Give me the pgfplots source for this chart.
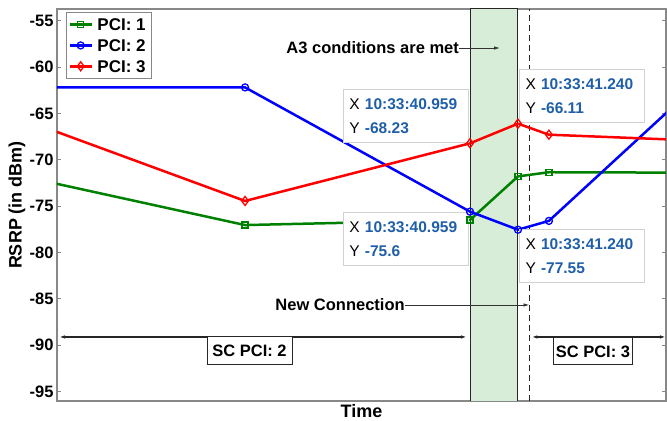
\documentclass[border=0pt]{standalone}
\usepackage{fontspec}
\setmainfont{Liberation Sans}
\usepackage{pgfplots}
\pgfplotsset{compat=1.18}
\usetikzlibrary{arrows.meta}
\definecolor{pcigreen}{HTML}{008000}
\definecolor{pciblue}{HTML}{0000FF}
\definecolor{pcired}{HTML}{FF0000}
\definecolor{tipblue}{HTML}{1F5FAA}
\definecolor{zonefill}{HTML}{D7EDD7}
\definecolor{boxgray}{HTML}{888888}
\newcommand{\tickfont}{\fontsize{16.5bp}{19bp}\selectfont\bfseries}
\newcommand{\legfont}{\fontsize{17bp}{19bp}\selectfont\bfseries}
\newcommand{\labfont}{\fontsize{18bp}{21bp}\selectfont\bfseries}
\newcommand{\notefont}{\fontsize{16.5bp}{19bp}\selectfont\bfseries}
\newcommand{\tipfont}{\fontsize{15.5bp}{24bp}\selectfont}
\newcommand{\tip}[2]{X \textcolor{tipblue}{\bfseries #1}\\Y \textcolor{tipblue}{\bfseries #2}}

\begin{document}
\begin{tikzpicture}
\begin{axis}[
  scale only axis, width=609bp, height=392bp,
  xmin=38.5409, xmax=42.1066, ymin=-96.03, ymax=-53.74,
  xtick=\empty,
  ytick={-95,-90,-85,-80,-75,-70,-65,-60,-55},
  yticklabels={-95,-90,-85,-80,-75,-70,-65,-60,-55},
  ytick pos=both, tick align=inside, major tick length=4bp,
  every tick/.style={boxgray, line width=1bp},
  axis line style={boxgray, line width=1.3bp},
  tick label style={font=\tickfont},
  xlabel={Time}, ylabel={RSRP (in dBm)},
  label style={font=\labfont},
  xlabel style={at={(axis description cs:0.5,-0.026)}, anchor=center},
  ylabel style={at={(axis description cs:-0.0657,0.5)}, anchor=center},
  legend style={at={(0.0155,0.992)}, anchor=north west, draw=boxgray,
    line width=1bp, font=\legfont, inner sep=1.5bp,
    nodes={inner sep=4.5bp, text depth=0pt}},
  legend cell align=left,
  legend image code/.code={\draw[mark repeat=2,mark phase=2]
    plot coordinates {(0bp,0bp) (11bp,0bp) (22bp,0bp)};},
]
% A3 window and connection instant
\addplot[draw=black!85, fill=zonefill, line width=1bp, forget plot]
  coordinates {(40.959,-96.03) (40.959,-53.74) (41.240,-53.74) (41.240,-96.03)} -- cycle;
\addplot[black!85, line width=1.2bp, dash pattern=on 6bp off 4bp, forget plot]
  coordinates {(41.3074,-96.03) (41.3074,-53.74)};

% measurements (seconds after 10:33:00)
\addplot[pcigreen, line width=2.5bp, mark=square, mark size=3bp,
  mark options={line width=1.3bp}]
  coordinates {(38.30,-71.63) (39.642,-77.05) (40.959,-76.5) (41.240,-71.8) (41.421,-71.35) (42.30,-71.4)};
\addlegendentry{PCI: 1}
\addplot[pciblue, line width=2.5bp, mark=o, mark size=3.5bp,
  mark options={line width=1.3bp}]
  coordinates {(38.30,-62.2) (39.642,-62.2) (40.959,-75.6) (41.240,-77.55) (41.421,-76.6) (42.30,-61.7)};
\addlegendentry{PCI: 2}
\addplot[pcired, line width=2.5bp, mark=diamond, mark size=4.5bp,
  mark options={line width=1.3bp}]
  coordinates {(38.30,-65.37) (39.642,-74.45) (40.959,-68.23) (41.240,-66.11) (41.421,-67.3) (42.30,-67.94)};
\addlegendentry{PCI: 3}

% annotations
\node[anchor=east, font=\notefont, inner sep=0pt] (a3) at (axis cs:40.895,-57.95) {A3 conditions are met};
\draw[black!80, line width=0.9bp, -{Latex[length=6bp,width=3.5bp]}] (a3.east) -- (axis cs:41.135,-57.95);
\node[anchor=east, font=\notefont, inner sep=0pt] (nc) at (axis cs:40.578,-85.67) {New Connection};
\draw[black!80, line width=0.9bp, -{Latex[length=6bp,width=3.5bp]}] (nc.east) -- (axis cs:41.3074,-85.67);
\draw[black!85, line width=1.2bp, {Latex[length=6bp,width=3.5bp]}-{Latex[length=6bp,width=3.5bp]}]
  (axis cs:38.553,-89.12) -- (axis cs:40.941,-89.12);
\draw[black!85, line width=1.2bp, {Latex[length=6bp,width=3.5bp]}-{Latex[length=6bp,width=3.5bp]}]
  (axis cs:41.319,-89.12) -- (axis cs:42.106,-89.12);
\node[draw=black!85, fill=white, line width=1bp, font=\notefont, minimum width=85bp, minimum height=28bp, inner sep=2bp]
  at (axis cs:39.668,-90.63) {SC PCI: 2};
\node[draw=black!85, fill=white, line width=1bp, font=\notefont, minimum width=79bp, minimum height=27bp, inner sep=2bp]
  at (axis cs:41.679,-90.68) {SC PCI: 3};

% data tips
\tikzset{tipbox/.style={draw=black!18, fill=white, line width=1bp, anchor=north west,
  inner xsep=6bp, inner ysep=9bp, text width=113bp, align=left, font=\tipfont}}
\node[tipbox] at (axis cs:40.215,-62.37) {\tip{10:33:40.959}{-68.23}};
\node[tipbox] at (axis cs:41.2459,-60.21) {\tip{10:33:41.240}{-66.11}};
\node[tipbox] at (axis cs:40.215,-75.64) {\tip{10:33:40.959}{-75.6}};
\node[tipbox] at (axis cs:41.2459,-77.47) {\tip{10:33:41.240}{-77.55}};
\end{axis}
\pgfresetboundingbox
\useasboundingbox (-57bp,-20bp) rectangle (610bp,401bp);
\end{tikzpicture}
\end{document}
